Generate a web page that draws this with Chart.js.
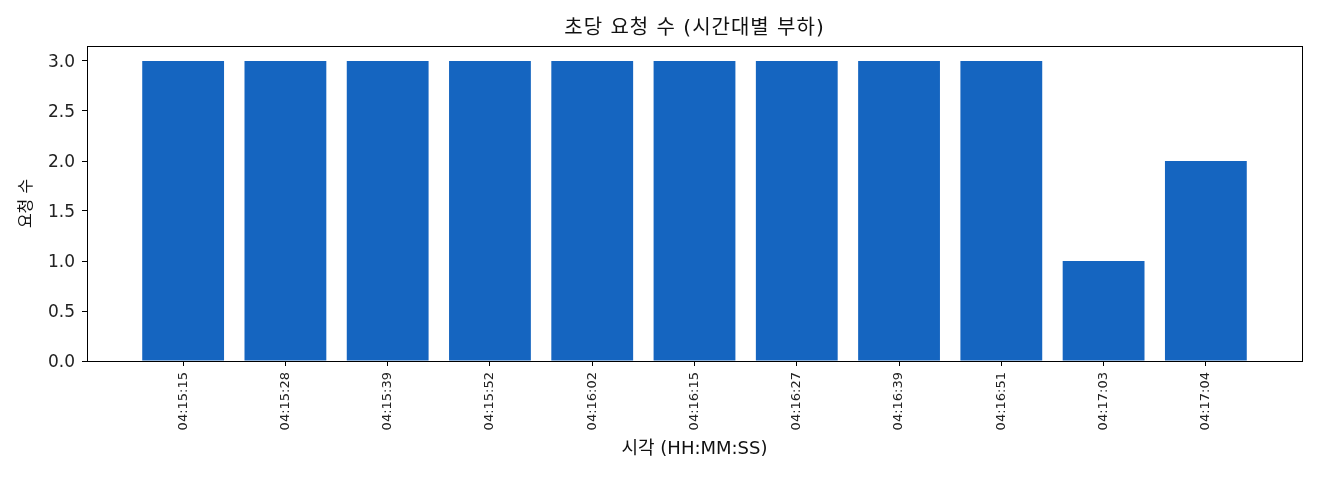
<!DOCTYPE html>
<html>
<head>
<meta charset="utf-8">
<script src="https://cdn.jsdelivr.net/npm/chart.js@4"></script>
<style>
  html, body { margin: 0; padding: 0; background: #fff; }
  #wrap { width: 1320px; height: 480px; }
</style>
</head>
<body>
<div id="wrap"><canvas id="rpsChart" width="1320" height="480"></canvas></div>
<script>
var timeLabels = ['04:15:15', '04:15:28', '04:15:39', '04:15:52', '04:16:02', '04:16:15',
                  '04:16:27', '04:16:39', '04:16:51', '04:17:03', '04:17:04'];
var requestCounts = [3, 3, 3, 3, 3, 3, 3, 3, 3, 1, 2];
var yTicks = [0, 0.5, 1.0, 1.5, 2.0, 2.5, 3.0];

var chartTitle = '초당 요청 수 (시간대별 부하)';
var xTitle = '시각 (HH:MM:SS)';
var yTitle = '요청 수';

var fontFamily = "'DejaVu Sans', 'Noto Sans CJK KR', sans-serif";

var points = [];
for (var i = 0; i < timeLabels.length; i++) {
  points.push({ x: i, y: requestCounts[i] });
}

// frame around the plot + title centred on the plot area
var framePlugin = {
  id: 'frame',
  afterDatasetsDraw: function(chart) {
    var a = chart.chartArea;
    var ctx = chart.ctx;
    ctx.save();
    ctx.strokeStyle = '#000';
    ctx.lineWidth = 1;
    ctx.strokeRect(Math.round(a.left) + 0.5, Math.round(a.top) + 0.5,
                   Math.round(a.right - a.left), Math.round(a.bottom - a.top));
    ctx.fillStyle = '#111';
    ctx.font = '20px ' + fontFamily;
    ctx.letterSpacing = '1px';
    ctx.textAlign = 'center';
    ctx.textBaseline = 'middle';
    ctx.fillText(chartTitle, (a.left + a.right) / 2, 29);
    ctx.restore();
  }
};

var ctx = document.getElementById('rpsChart').getContext('2d');
var myChart = new Chart(ctx, {
  type: 'bar',
  data: {
    datasets: [{
      data: points,
      backgroundColor: '#1565c0',
      borderWidth: 0,
      barPercentage: 0.8,
      categoryPercentage: 1.0
    }]
  },
  options: {
    responsive: false,
    animation: false,
    devicePixelRatio: 1,
    layout: {
      padding: { left: 0, right: 18, top: 46, bottom: 0 }
    },
    plugins: {
      legend: { display: false },
      tooltip: { enabled: false },
      title: { display: false }
    },
    scales: {
      x: {
        type: 'linear',
        offset: false,
        min: -0.94,
        max: 10.94,
        afterBuildTicks: function(scale) {
          scale.ticks = timeLabels.map(function(l, i) { return { value: i }; });
        },
        afterFit: function(scale) { scale.height = 119; },
        grid: { display: true, offset: false, drawOnChartArea: false, drawTicks: true, tickLength: 5, color: '#000' },
        border: { display: true, color: '#000' },
        ticks: {
          autoSkip: false,
          minRotation: 90,
          maxRotation: 90,
          padding: 6,
          color: '#222',
          font: { family: fontFamily, size: 13 },
          callback: function(v) { return timeLabels[v]; }
        },
        title: {
          display: true,
          text: xTitle,
          color: '#111',
          font: { family: fontFamily, size: 18 },
          padding: { top: 0, bottom: 20 }
        }
      },
      y: {
        min: 0,
        max: 3.15,
        afterBuildTicks: function(scale) {
          scale.ticks = yTicks.map(function(v) { return { value: v }; });
        },
        afterFit: function(scale) { scale.width = 87; },
        grid: { display: true, drawOnChartArea: false, drawTicks: true, tickLength: 5, color: '#000' },
        border: { display: true, color: '#000' },
        ticks: {
          padding: 7,
          labelOffset: 2,
          color: '#222',
          font: { family: fontFamily, size: 17 },
          callback: function(v) { return v.toFixed(1); }
        },
        title: {
          display: true,
          text: yTitle,
          color: '#111',
          font: { family: fontFamily, size: 16 },
          padding: { top: 17, bottom: 0 }
        }
      }
    }
  },
  plugins: [framePlugin]
});
</script>
</body>
</html>
